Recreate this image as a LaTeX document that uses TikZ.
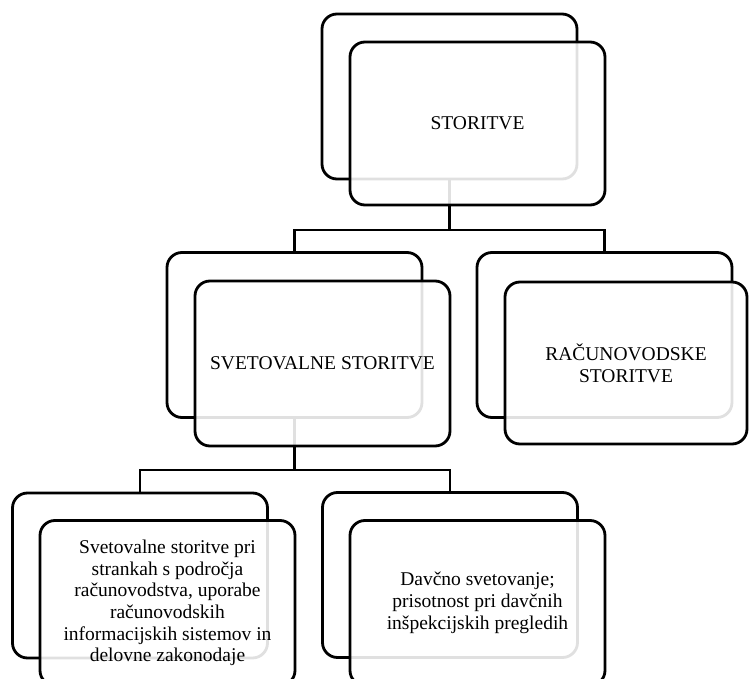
\documentclass[tikz,border=0pt]{standalone}
\usepackage{fontspec}
\setmainfont{Liberation Serif}
\begin{document}
\begin{tikzpicture}[x=1pt, y=-1pt,
  backbox/.style={draw, fill=white, line width=2.8pt, rounded corners=15pt,
    minimum width=255pt, minimum height=165pt, inner sep=0pt},
  frontbox/.style={backbox, fill opacity=0.88, text opacity=1, align=center,
    font=\fontsize{19.5}{21.7}\selectfont},
  link/.style={line width=2.8pt}]
  \useasboundingbox (0,0) rectangle (750,679);
  \clip (0,0) rectangle (750,679);
  % back boxes
  \node[backbox] (topback) at (449.5,96.5) {};
  \node[backbox] (svetback) at (294.5,335) {};
  \node[backbox] (racback) at (604.5,335) {};
  \node[backbox] (strankeback) at (140,575.5) {};
  \node[backbox] (davback) at (450,575) {};
  % connectors
  \coordinate (join1) at (449.5,230);
  \coordinate (join2) at (294.5,470);
  \draw[link] (topback.south) -- (join1);
  \draw[link] (svetback.north) |- (join1) -| (racback.north);
  \draw[link] (svetback.south) -- (join2);
  \draw[link] (strankeback.north) |- (join2) -| (davback.north);
  % front boxes
  \node[frontbox, minimum height=163pt] (top) at (477.5,123.5) {STORITVE};
  \node[frontbox] (svet) at (322.5,363.5) {SVETOVALNE STORITVE};
  \node[frontbox, minimum width=242pt, minimum height=162pt] (rac) at (626,363) {RAČUNOVODSKE\\STORITVE};
  \node[frontbox] (stranke) at (167.5,603) {Svetovalne storitve pri\\strankah s področja\\računovodstva, uporabe\\računovodskih\\informacijskih sistemov in\\delovne zakonodaje};
  \node[frontbox] (dav) at (477.5,603) {Davčno svetovanje;\\prisotnost pri davčnih\\inšpekcijskih pregledih};
\end{tikzpicture}
\end{document}
